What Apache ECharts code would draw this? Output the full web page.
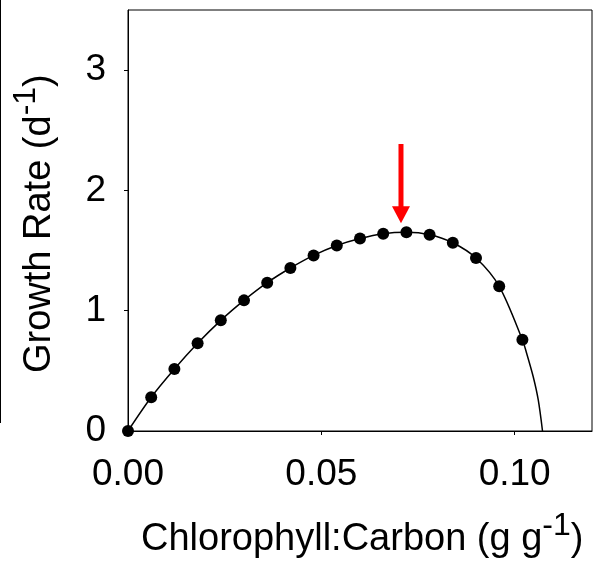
<!DOCTYPE html>
<html>
<head>
<meta charset="utf-8">
<script src="https://cdn.jsdelivr.net/npm/echarts@6/dist/echarts.min.js"></script>
<style>
html,body{margin:0;padding:0;background:#fff;}
#chart{width:594px;height:564px;}
</style>
</head>
<body>
<div id="chart"></div>
<script>
// Data
const chlC   = [0, 0.006, 0.012, 0.018, 0.024, 0.030, 0.036, 0.042, 0.048, 0.054, 0.060, 0.066, 0.072, 0.078, 0.084, 0.090, 0.096, 0.102];
const growth = [0, 0.28, 0.515, 0.729, 0.92, 1.086, 1.233, 1.355, 1.46, 1.542, 1.60, 1.64, 1.652, 1.632, 1.565, 1.438, 1.203, 0.759];
// fitted curve continues past the last point down to zero
const curveTailX = [0.1031, 0.1048, 0.1061, 0.1072];
const curveTailY = [0.646, 0.451, 0.258, 0];
// red arrow marking the optimum
const arrowX = [0.0706];
const arrowTop = [2.386];
const arrowTip = [1.727];
const xTicks = [0, 0.05, 0.10];
const yTicks = [0, 1, 2, 3];

const pts = chlC.map((x, i) => [x, growth[i]]);
const curve = pts.concat(curveTailX.map((x, i) => [x, curveTailY[i]]));
const arrowData = arrowX.map((x, i) => [x, arrowTop[i], arrowTip[i]]);

const FONT = 'Liberation Sans, Arial, sans-serif';
const richTitle = {
  m: {fontFamily: FONT, fontSize: 38, fill: '#000', verticalAlign: 'bottom', lineHeight: 49},
  s: {fontFamily: FONT, fontSize: 32, fill: '#000', verticalAlign: 'top', lineHeight: 49}
};
const chart = echarts.init(document.getElementById('chart'), null, {renderer: 'canvas'});
chart.setOption({
  animation: false,
  backgroundColor: '#fff',
  grid: {left: 128, top: 10, right: 2, bottom: 133, show: true, borderColor: '#000', borderWidth: 1, backgroundColor: 'transparent'},
  xAxis: {
    type: 'value', min: 0, max: 0.12,
    splitLine: {show: false},
    axisLine: {show: true, onZero: false, lineStyle: {color: '#000', width: 1}},
    axisTick: {show: true, length: 4, inside: false, customValues: xTicks, lineStyle: {color: '#000'}},
    axisLabel: {customValues: xTicks, margin: 25, color: '#000', fontFamily: FONT, fontSize: 37,
      formatter: v => v.toFixed(2)}
  },
  yAxis: {
    type: 'value', min: 0, max: 3.5,
    splitLine: {show: false},
    axisLine: {show: true, onZero: false, lineStyle: {color: '#000', width: 1}},
    axisTick: {show: true, length: 4, inside: false, customValues: yTicks, lineStyle: {color: '#000'}},
    axisLabel: {customValues: yTicks, margin: 22, color: '#000', fontFamily: FONT, fontSize: 37,
      formatter: v => String(v)}
  },
  graphic: [
    {type: 'line', shape: {x1: 0.5, y1: 0, x2: 0.5, y2: 423}, style: {stroke: '#000', lineWidth: 1}},
    {type: 'text', x: 141, y: 510, style: {
      text: '{m|Chlorophyll:Carbon (g g}{s|-1}{m|)}', rich: richTitle}},
    {type: 'text', x: 10, y: 373, rotation: Math.PI / 2, style: {
      text: '{m|Growth Rate (d}{s|-1}{m|)}', rich: richTitle}}
  ],
  series: [
    {type: 'line', data: curve, smooth: 0.3, showSymbol: false, symbol: 'none',
      lineStyle: {color: '#000', width: 1.5}, z: 2},
    {type: 'scatter', data: pts, symbol: 'circle', symbolSize: 12, itemStyle: {color: '#000', opacity: 1}, z: 3},
    {type: 'custom', data: arrowData, z: 4,
      renderItem: function (params, api) {
        const top = api.coord([api.value(0), api.value(1)]);
        const tip = api.coord([api.value(0), api.value(2)]);
        const headH = 17, headW = 18, shaftW = 5;
        return {type: 'group', children: [
          {type: 'rect', shape: {x: top[0] - shaftW / 2, y: top[1], width: shaftW, height: tip[1] - headH - top[1] + 1},
            style: {fill: '#ff0000'}},
          {type: 'polygon', shape: {points: [[tip[0] - headW / 2, tip[1] - headH], [tip[0] + headW / 2, tip[1] - headH], [tip[0], tip[1]]]},
            style: {fill: '#ff0000'}}
        ]};
      }}
  ]
});
</script>
</body>
</html>
